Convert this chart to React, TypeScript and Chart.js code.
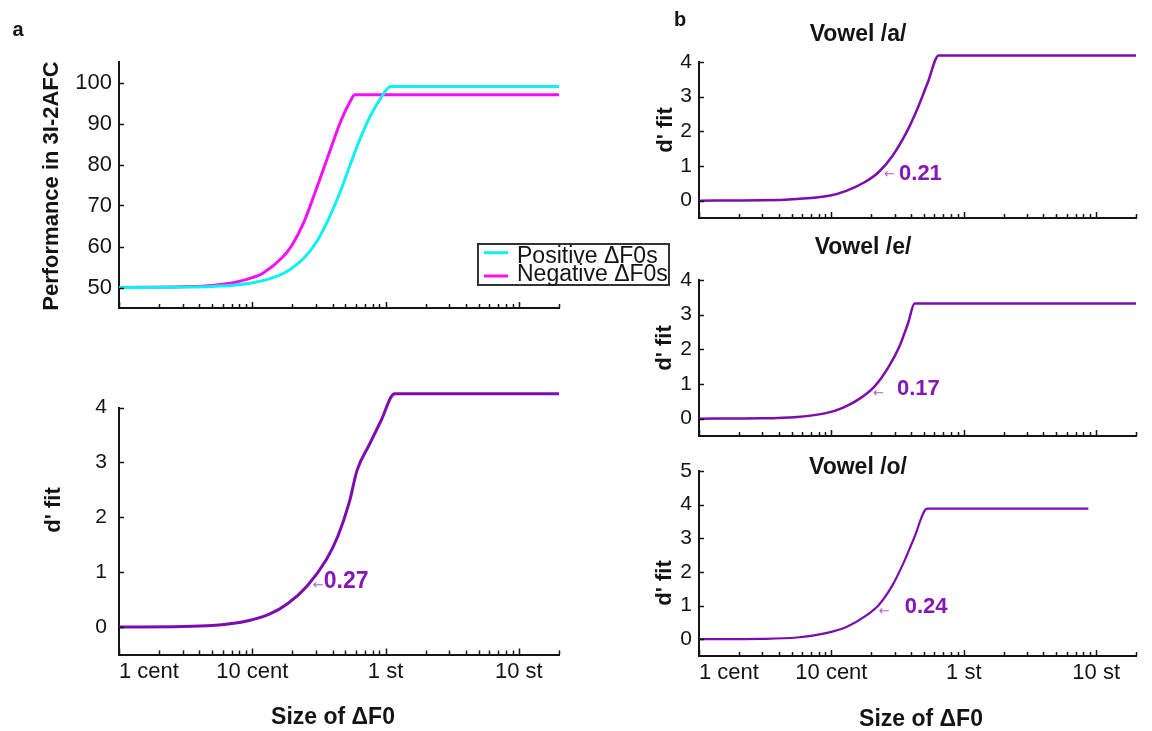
import React, { useEffect, useRef } from "react";
import { Chart, registerables } from "chart.js";

Chart.register(...registerables);

const PAGE_W = 1152;
const PAGE_H = 731;
const FONT = '"Liberation Sans", Arial, Helvetica, sans-serif';
const INK = "#141414";
const CYAN = "#10f0f0";
const MAGENTA = "#f510f5";
const PURPLE = "#7c0cae";
const PURPLE_TEXT = "#8616b6";

// ΔF0 axis in cents (100 cents = 1 semitone)
const X_MIN = 1;
const X_MAX = 2000;
const xTickCents = [
  1, 2, 3, 4, 5, 6, 7, 8, 9,
  10, 20, 30, 40, 50, 60, 70, 80, 90,
  100, 200, 300, 400, 500, 600, 700, 800, 900,
  1000, 2000,
];
const xMajorCents = [1, 10, 100, 1000];
const xMajorLabels = ["1 cent", "10 cent", "1 st", "10 st"];

// Panel a (top): percent correct in the 3I-2AFC task
const perfTicks = [50, 60, 70, 80, 90, 100];
const posCents = [1, 3, 5, 7.5, 10.3, 14, 17.5, 22, 27, 32, 38, 46, 55, 65, 77, 92, 109, 2000];
const posPerf = [50.0, 50.1, 50.25, 50.6, 51.2, 52.3, 53.6, 55.8, 58.8, 62.4, 67.2, 73.6, 80.5, 86.6, 91.9, 96.2, 99.0, 99.0];
const negCents = [1, 3, 5, 7.5, 10, 12, 17, 20, 24.3, 29.8, 38.7, 46, 54.7, 58.6, 2000];
const negPerf = [50.0, 50.2, 50.5, 51.3, 52.4, 53.5, 57.5, 60.5, 65.8, 73.5, 83.8, 90.5, 95.6, 97.0, 97.0];

// d' ticks
const dTicks4 = [0, 1, 2, 3, 4];
const dTicks5 = [0, 1, 2, 3, 4, 5];

// Panel a (bottom): d' fit, all vowels
const allCents = [1, 3, 5, 6.8, 9.5, 13.3, 18.5, 25.8, 35.8, 43.6, 53.4, 61, 75, 92, 117, 2000];
const allFit = [0, 0.01, 0.03, 0.06, 0.12, 0.23, 0.43, 0.75, 1.22, 1.64, 2.27, 2.85, 3.31, 3.75, 4.25, 4.25];

// Panel b: d' fit per vowel
const aCents = [1, 3, 5.5, 9.6, 13.1, 17.8, 22.7, 28.9, 36.9, 44.5, 53.4, 64.7, 2000];
const aFit = [0, 0.01, 0.05, 0.14, 0.29, 0.53, 0.82, 1.29, 1.97, 2.64, 3.4, 4.19, 4.19];
const eCents = [1, 3, 5.5, 9.1, 12.3, 16.7, 21.3, 27.2, 32.7, 38, 42.5, 2000];
const eFit = [0, 0.01, 0.05, 0.16, 0.32, 0.6, 0.94, 1.51, 2.09, 2.76, 3.32, 3.32];
const oCents = [1, 3, 5.5, 9.1, 13.1, 17.8, 22.7, 28.9, 34.8, 41.8, 53, 873];
const oFit = [0, 0.01, 0.05, 0.18, 0.37, 0.67, 1.01, 1.6, 2.24, 2.97, 3.88, 3.88];

// Thresholds (semitones) for: all vowels, /a/, /e/, /o/
const thresholds = [0.27, 0.21, 0.17, 0.24];
// d' level where each threshold marker sits
const thresholdLevels = [0.75, 0.74, 0.73, 0.83];

type Series = { label: string; cents: number[]; values: number[]; color: string; width: number };
type TextItem = { text: string; x: number; y: number; size: number; bold?: boolean; rotate?: boolean };
type Note = { index: number; arrowDx: number; textDx: number; textDy: number; size: number };
type LegendBox = {
  x0: number; y0: number; x1: number; y1: number;
  lineX0: number; lineX1: number; textX: number;
  lineY: number[]; baseY: number[]; size: number;
};
type PanelSpec = {
  area: { left: number; top: number; right: number; bottom: number };
  yMin: number; yMax: number; yTicks: number[]; yFont: number; yPad: number;
  xLabels: boolean;
  series: Series[];
  texts: TextItem[];
  note?: Note;
  legend?: LegendBox;
};

const panels: PanelSpec[] = [
  {
    area: { left: 119, top: 62, right: 559, bottom: 308 },
    yMin: 45, yMax: 105, yTicks: perfTicks, yFont: 22, yPad: 7,
    xLabels: false,
    series: [
      { label: "Positive ΔF0s", cents: posCents, values: posPerf, color: CYAN, width: 3 },
      { label: "Negative ΔF0s", cents: negCents, values: negPerf, color: MAGENTA, width: 3 },
    ],
    texts: [
      { text: "a", x: 18, y: 30, size: 20, bold: true },
      { text: "Performance in 3I-2AFC", x: 52, y: 186, size: 22, bold: true, rotate: true },
    ],
    legend: {
      x0: 478, y0: 244, x1: 669, y1: 285,
      lineX0: 484, lineX1: 508, textX: 517,
      lineY: [252.7, 276], baseY: [262.5, 280.5], size: 23,
    },
  },
  {
    area: { left: 119, top: 407.5, right: 559, bottom: 654.5 },
    yMin: -0.5, yMax: 4, yTicks: dTicks4, yFont: 21, yPad: 12,
    xLabels: true,
    series: [{ label: "All vowels", cents: allCents, values: allFit, color: PURPLE, width: 3 }],
    texts: [
      { text: "d' fit", x: 54, y: 510, size: 22, bold: true, rotate: true },
      { text: "Size of ΔF0", x: 333, y: 718, size: 23, bold: true },
    ],
    note: { index: 0, arrowDx: 3, textDx: 14, textDy: -4, size: 23 },
  },
  {
    area: { left: 699, top: 62, right: 1136, bottom: 218 },
    yMin: -0.5, yMax: 4, yTicks: dTicks4, yFont: 21, yPad: 7,
    xLabels: false,
    series: [{ label: "Vowel /a/", cents: aCents, values: aFit, color: PURPLE, width: 2.5 }],
    texts: [
      { text: "b", x: 680, y: 20, size: 20, bold: true },
      { text: "Vowel /a/", x: 858, y: 35, size: 23, bold: true },
      { text: "d' fit", x: 666, y: 130, size: 22, bold: true, rotate: true },
    ],
    note: { index: 1, arrowDx: 10, textDx: 25, textDy: -1, size: 22 },
  },
  {
    area: { left: 699, top: 280, right: 1136, bottom: 436 },
    yMin: -0.5, yMax: 4, yTicks: dTicks4, yFont: 21, yPad: 7,
    xLabels: false,
    series: [{ label: "Vowel /e/", cents: eCents, values: eFit, color: PURPLE, width: 2.5 }],
    texts: [
      { text: "Vowel /e/", x: 863, y: 248, size: 23, bold: true },
      { text: "d' fit", x: 665, y: 348, size: 22, bold: true, rotate: true },
    ],
    note: { index: 2, arrowDx: 11, textDx: 35, textDy: -4, size: 22 },
  },
  {
    area: { left: 699, top: 471, right: 1136, bottom: 656 },
    yMin: -0.5, yMax: 5, yTicks: dTicks5, yFont: 21, yPad: 7,
    xLabels: true,
    series: [{ label: "Vowel /o/", cents: oCents, values: oFit, color: PURPLE, width: 2.2 }],
    texts: [
      { text: "Vowel /o/", x: 858, y: 468, size: 23, bold: true },
      { text: "d' fit", x: 665, y: 583, size: 22, bold: true, rotate: true },
      { text: "Size of ΔF0", x: 921, y: 720, size: 23, bold: true },
    ],
    note: { index: 3, arrowDx: -3, textDx: 23, textDy: -4, size: 22 },
  },
];

// Inward tick marks, labels, threshold notes and the legend box
function decor(p: PanelSpec) {
  return {
    id: "decor",
    afterDraw(chart: any) {
      const ctx: CanvasRenderingContext2D = chart.ctx;
      const xs = chart.scales.x;
      const ys = chart.scales.y;
      const { left, bottom } = chart.chartArea;
      ctx.save();

      ctx.strokeStyle = INK;
      ctx.lineWidth = 1.5;
      ctx.beginPath();
      for (const v of xTickCents) {
        const px = Math.round(xs.getPixelForValue(v)) + 0.5;
        const len = xMajorCents.includes(v) ? 6 : 4;
        ctx.moveTo(px, bottom);
        ctx.lineTo(px, bottom - len);
      }
      for (const v of p.yTicks) {
        const py = Math.round(ys.getPixelForValue(v)) + 0.5;
        ctx.moveTo(left, py);
        ctx.lineTo(left + 5, py);
      }
      ctx.stroke();

      ctx.fillStyle = INK;
      for (const t of p.texts) {
        ctx.save();
        ctx.font = `${t.bold ? "bold " : ""}${t.size}px ${FONT}`;
        ctx.textAlign = "center";
        ctx.textBaseline = "middle";
        ctx.translate(t.x, t.y);
        if (t.rotate) ctx.rotate(-Math.PI / 2);
        ctx.fillText(t.text, 0, 0);
        ctx.restore();
      }

      if (p.note) {
        const n = p.note;
        const st = thresholds[n.index];
        const px = xs.getPixelForValue(st * 100);
        const py = ys.getPixelForValue(thresholdLevels[n.index]);
        ctx.textAlign = "left";
        ctx.textBaseline = "middle";
        ctx.font = `13px "DejaVu Sans", sans-serif`;
        ctx.fillStyle = "rgba(134, 22, 182, 0.7)";
        ctx.fillText("←", px + n.arrowDx, py);
        ctx.font = `bold ${n.size}px ${FONT}`;
        ctx.fillStyle = PURPLE_TEXT;
        ctx.fillText(st.toFixed(2), px + n.textDx, py + n.textDy);
      }

      if (p.legend) {
        const L = p.legend;
        ctx.fillStyle = "#ffffff";
        ctx.fillRect(L.x0, L.y0, L.x1 - L.x0, L.y1 - L.y0);
        ctx.strokeStyle = "#333333";
        ctx.lineWidth = 2;
        ctx.strokeRect(L.x0, L.y0, L.x1 - L.x0, L.y1 - L.y0);
        chart.data.datasets.forEach((ds: any, i: number) => {
          ctx.strokeStyle = ds.borderColor;
          ctx.lineWidth = 3;
          ctx.beginPath();
          ctx.moveTo(L.lineX0, L.lineY[i]);
          ctx.lineTo(L.lineX1, L.lineY[i]);
          ctx.stroke();
          ctx.fillStyle = INK;
          ctx.font = `${L.size}px ${FONT}`;
          ctx.textAlign = "left";
          ctx.textBaseline = "alphabetic";
          ctx.fillText(ds.label, L.textX, L.baseY[i]);
        });
      }
      ctx.restore();
    },
  };
}

function buildConfig(p: PanelSpec): any {
  const datasets = p.series.map((s) => ({
    label: s.label,
    data: s.cents.map((c, i) => ({ x: c, y: s.values[i] })),
    borderColor: s.color,
    backgroundColor: s.color,
    borderWidth: s.width,
    pointRadius: 0,
    fill: false,
    cubicInterpolationMode: "monotone",
    clip: false,
  }));
  const xBand = PAGE_H - p.area.bottom;
  return {
    type: "line",
    data: { datasets },
    options: {
      responsive: false,
      animation: false,
      devicePixelRatio: 1,
      events: [],
      layout: {
        padding: { left: 0, top: p.area.top, right: PAGE_W - p.area.right, bottom: 0 },
      },
      plugins: { legend: { display: false }, tooltip: { enabled: false } },
      scales: {
        x: {
          type: "logarithmic",
          min: X_MIN,
          max: X_MAX,
          afterFit: (s: any) => {
            s.height = xBand;
          },
          afterBuildTicks: (s: any) => {
            s.ticks = xTickCents.map((v) => ({ value: v }));
          },
          grid: { display: false, drawTicks: false },
          border: { display: true, color: INK, width: 2 },
          ticks: {
            display: p.xLabels,
            autoSkip: false,
            maxRotation: 0,
            minRotation: 0,
            align: "inner",
            padding: 4,
            color: INK,
            font: { family: FONT, size: 22 },
            callback: (v: any) => {
              const k = xMajorCents.indexOf(Number(v));
              return k >= 0 ? xMajorLabels[k] : "";
            },
          },
        },
        y: {
          type: "linear",
          min: p.yMin,
          max: p.yMax,
          afterFit: (s: any) => {
            s.width = p.area.left;
          },
          afterBuildTicks: (s: any) => {
            s.ticks = p.yTicks.map((v) => ({ value: v }));
          },
          grid: { display: false, drawTicks: false },
          border: { display: true, color: INK, width: 2 },
          ticks: {
            padding: p.yPad,
            color: INK,
            font: { family: FONT, size: p.yFont },
            callback: (v: any) => String(v),
          },
        },
      },
    },
    plugins: [decor(p)],
  };
}

function Panel({ spec }: { spec: PanelSpec }) {
  const ref = useRef<HTMLCanvasElement | null>(null);
  useEffect(() => {
    if (!ref.current) return;
    const chart = new Chart(ref.current, buildConfig(spec));
    return () => chart.destroy();
  }, [spec]);
  return (
    <canvas
      ref={ref}
      width={PAGE_W}
      height={PAGE_H}
      style={{ position: "absolute", left: 0, top: 0, width: PAGE_W, height: PAGE_H }}
    />
  );
}

export default function App() {
  return (
    <div
      style={{
        position: "absolute",
        left: 0,
        top: 0,
        width: PAGE_W,
        height: PAGE_H,
        background: "#ffffff",
        overflow: "hidden",
      }}
    >
      {panels.map((p, i) => (
        <Panel key={i} spec={p} />
      ))}
    </div>
  );
}
